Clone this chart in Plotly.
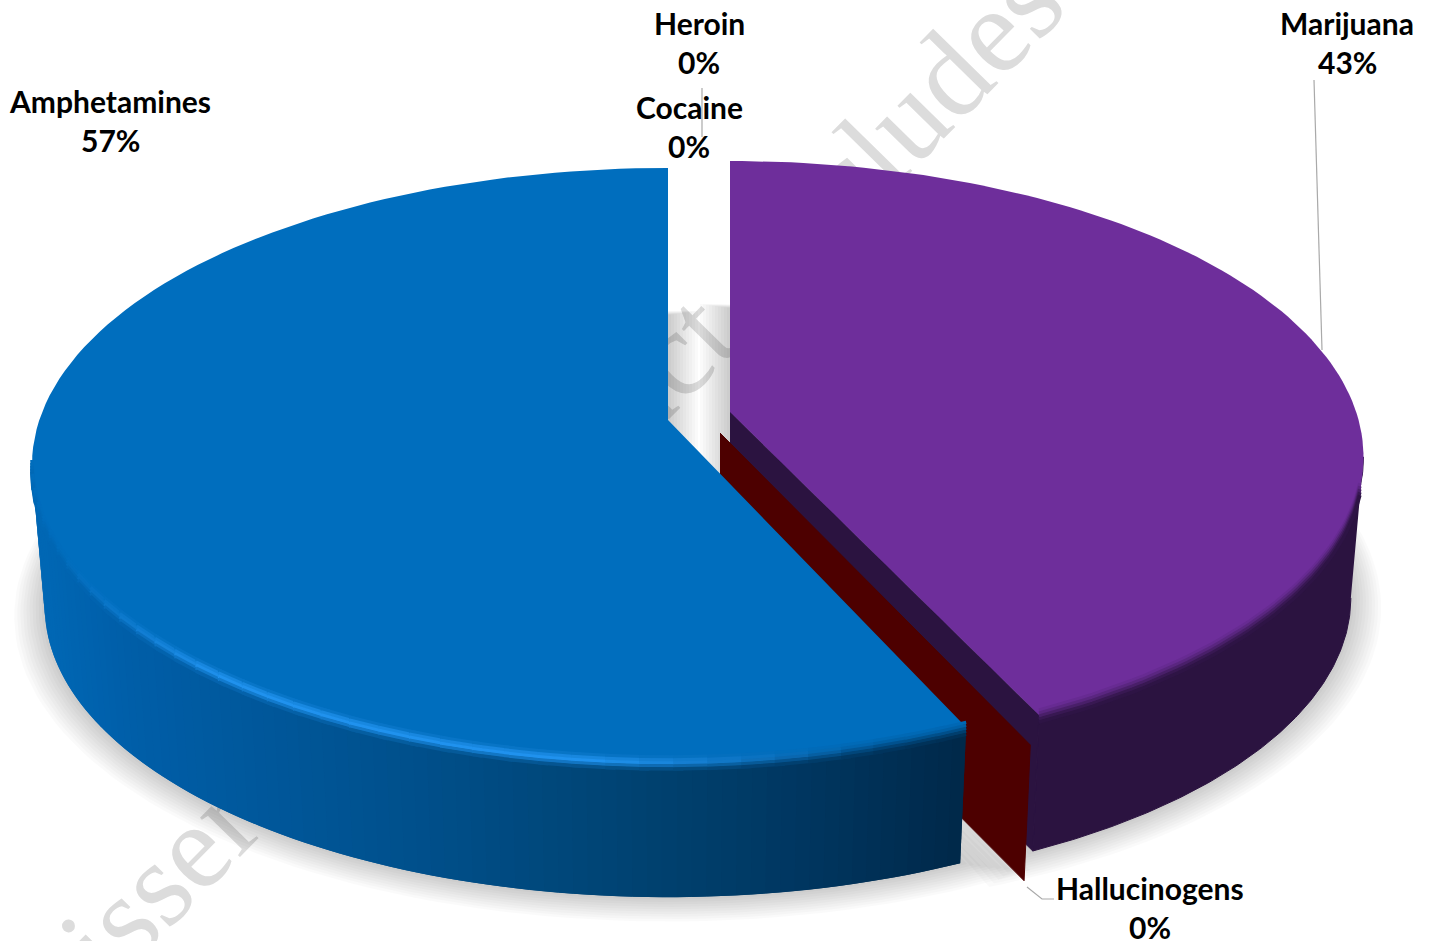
import math
import plotly.graph_objects as go

# ---- data ----
categories = ["Marijuana", "Hallucinogens", "Cocaine", "Heroin", "Amphetamines"]
shares = [43.0, 0.3, 0.0, 0.0, 56.7]

# ---- styling ----
FONT = "Lato"
TOP_BLUE, TOP_PURPLE = (0, 110, 190), (110, 46, 155)
SIDE_PURPLE = (43, 19, 64)
MAROON = "#4d0000"
HILITE = (32, 146, 238)
F, FS, K = 628.7, 290.2, 0.1515
DEPTH, BOTTOM_SCALE = 142, 0.98
APEX = {"Marijuana": (730, 412), "Hallucinogens": (720, 433), "Amphetamines": (668, 420)}
SLICE_SCALE = {"Marijuana": 0.996, "Hallucinogens": 1.02, "Amphetamines": 1.0}
SIDE_STOPS = [(40, (0, 103, 180)), (120, (0, 94, 168)), (400, (0, 80, 140)),
              (640, (0, 66, 112)), (800, (0, 54, 96)), (965, (0, 40, 72))]


def rgb(c):
    c = [int(round(v)) for v in c]
    return f"rgb({c[0]},{c[1]},{c[2]})"


def lerp(a, b, t):
    return tuple(a[i] + (b[i] - a[i]) * t for i in range(3))


def proj(deg, apex, scale=1.0, depth=0.0):
    th = math.radians(deg)
    u, v = math.sin(th), -math.cos(th)
    w = 1 - K * v
    return apex[0] + scale * F * u / w, apex[1] + scale * FS * v / w + depth


def arc(a0, a1, apex, scale=1.0, depth=0.0, n=120):
    pts = [proj(a0 + (a1 - a0) * i / n, apex, scale, depth) for i in range(n + 1)]
    return [p[0] for p in pts], [p[1] for p in pts]


def side_colour(x):
    if x <= SIDE_STOPS[0][0]:
        return SIDE_STOPS[0][1]
    for (x0, c0), (x1, c1) in zip(SIDE_STOPS, SIDE_STOPS[1:]):
        if x <= x1:
            return lerp(c0, c1, (x - x0) / (x1 - x0))
    return SIDE_STOPS[-1][1]


fig = go.Figure()


def poly(xs, ys, color, line=None):
    fig.add_trace(go.Scatter(x=xs, y=ys, mode="lines", fill="toself", fillcolor=color,
                             line=dict(color=line or "rgba(0,0,0,0)", width=1 if line else 0),
                             hoverinfo="skip", showlegend=False))


def seg(xs, ys, color, width):
    fig.add_trace(go.Scatter(x=xs, y=ys, mode="lines", line=dict(color=color, width=width),
                             hoverinfo="skip", showlegend=False))


# angular spans from the shares, clockwise from twelve o'clock
span, c = {}, 0.0
for name, s in zip(categories, shares):
    span[name] = (c, c + s * 3.6)
    c += s * 3.6
m0, m1 = span["Marijuana"]
h0, h1 = span["Hallucinogens"]
b0, b1 = span["Amphetamines"]
right_tangent = math.degrees(math.acos(-K))
left_tangent = 360 - right_tangent
A_M, A_H, A_B = APEX["Marijuana"], APEX["Hallucinogens"], APEX["Amphetamines"]
S_M, S_H = SLICE_SCALE["Marijuana"], SLICE_SCALE["Hallucinogens"]

# soft ground shadow
for k in range(1, 11):
    sc = BOTTOM_SCALE + 0.0048 * k
    d = DEPTH + 0.8 * k
    xs, ys = arc(b0 - 0.5 * k, b1, A_B, sc, d)
    xs = [A_B[0] + 3 * k] + xs + [A_B[0] + 3 * k]
    ys = [A_B[1] + d] + ys + [ys[-1]]
    poly(xs, ys, "rgba(0,0,0,0.019)")
    xs, ys = arc(m0, m1 + 0.5 * k, A_M, sc * S_M, d)
    xs = [A_M[0] - 3 * k] + xs + [A_M[0] - 3 * k]
    ys = [ys[0]] + ys + [A_M[1] + d]
    poly(xs, ys, "rgba(0,0,0,0.019)")

# Marijuana: side wall, cut face
tx, ty = arc(right_tangent, m1, A_M, S_M)
bx, by = arc(m1, right_tangent, A_M, BOTTOM_SCALE * S_M, DEPTH)
poly(tx + bx, ty + by, rgb(SIDE_PURPLE), rgb(SIDE_PURPLE))
rim_t, rim_b = proj(m1, A_M, S_M), proj(m1, A_M, BOTTOM_SCALE * S_M, DEPTH)
poly([A_M[0], rim_t[0], rim_b[0], A_M[0]], [A_M[1], rim_t[1], rim_b[1], A_M[1] + DEPTH],
     rgb(SIDE_PURPLE), rgb(SIDE_PURPLE))

# Hallucinogens: only its cut face shows
mid = (h0 + h1) / 2
rim_t, rim_b = proj(mid, A_H, S_H), proj(mid, A_H, BOTTOM_SCALE * S_H, DEPTH)
poly([A_H[0], rim_t[0], rim_b[0], A_H[0]], [A_H[1], rim_t[1], rim_b[1], A_H[1] + DEPTH], MAROON, MAROON)

# Marijuana top and rim bevel
xs, ys = arc(m0, m1, A_M, S_M)
poly([A_M[0]] + xs, [A_M[1]] + ys, rgb(TOP_PURPLE))
for off, t in ((-5, 0.1), (-2, 0.3), (1, 0.55), (4, 0.8), (7, 0.95)):
    x, y = arc(right_tangent + 6, m1, A_M, S_M, depth=off, n=50)
    seg(x, y, rgb(lerp(TOP_PURPLE, SIDE_PURPLE, t)), 3.5)

# Amphetamines: side wall, painted left to right so neighbouring strips overlap
STRIPS_B = 90
for i in range(STRIPS_B):
    a = left_tangent + (b0 - left_tangent) * i / STRIPS_B
    e = b0 if i == STRIPS_B - 1 else left_tangent + (b0 - left_tangent) * (i + 2) / STRIPS_B
    tx, ty = arc(a, e, A_B, n=4)
    bx, by = arc(e, a, A_B, BOTTOM_SCALE, DEPTH, n=4)
    poly(tx + bx, ty + by, rgb(side_colour(tx[0])))

# Amphetamines top
xs, ys = arc(b0, b1, A_B)
poly([A_B[0]] + xs, [A_B[1]] + ys, rgb(TOP_BLUE))
# rim bevel with its light catch-line
BEVEL = 40
for i in range(BEVEL):
    a = left_tangent + (b0 - left_tangent) * i / BEVEL
    e = left_tangent + (b0 - left_tangent) * min(i + 1.3, BEVEL) / BEVEL
    x_mid = proj((a + e) / 2, A_B)[0]
    side = side_colour(x_mid)
    h = max(0.0, min(1.0, (x_mid - 60) / 160)) * max(0.0, min(1.0, (880 - x_mid) / 280))
    for off, t, w in ((-5, 0.08, 0.25), (-2, 0.2, 0.75), (1, 0.45, 1.0), (4, 0.7, 0.55), (7, 0.9, 0.15)):
        base = lerp(TOP_BLUE, side, t)
        x, y = arc(a, e, A_B, depth=off, n=4)
        seg(x, y, rgb(lerp(base, HILITE, h * w)), 3.5)

# leader lines
LEADER = "#a9a9a9"
seg([702, 702], [88, 137], LEADER, 1.2)
seg([1314, 1322], [80, 350], LEADER, 1.2)
seg([1027, 1042, 1054], [887, 899, 899], LEADER, 1.2)

# labels: (name, centre x, name y, percent y)
label_pos = {"Amphetamines": (110, 101, 140), "Cocaine": (689, 107, 146), "Heroin": (699, 23, 62),
             "Marijuana": (1347, 23, 62), "Hallucinogens": (1150, 888, 927)}
ann = []
for name, s in zip(categories, shares):
    x, y1, y2 = label_pos[name]
    for txt, y in ((name, y1), (f"{round(s)}%", y2)):
        ann.append(dict(x=x, y=y, text=txt, showarrow=False, xanchor="center", yanchor="middle",
                        font=dict(family=FONT, size=30, color="black", weight="bold")))

# watermark behind the pie
mark = dict(type="line", x0=88, y0=1035, x1=1054, y1=49, layer="below", xref="x", yref="y",
            line=dict(color="rgba(0,0,0,0)", width=1),
            label=dict(text="Dissertation product\u00a0 includes", textposition="middle",
                       font=dict(family="Liberation Serif", size=122, color="#dcdcdc")))

fig.update_layout(
    width=1434, height=941, margin=dict(l=0, r=0, t=0, b=0), showlegend=False,
    paper_bgcolor="white", plot_bgcolor="white",
    xaxis=dict(range=[0, 1434], visible=False, fixedrange=True),
    yaxis=dict(range=[941, 0], visible=False, fixedrange=True),
    annotations=ann, shapes=[mark],
)
fig.write_html("out.html", config=dict(displayModeBar=False),
               post_script="document.body.style.margin='0';document.documentElement.style.overflow='hidden';")
